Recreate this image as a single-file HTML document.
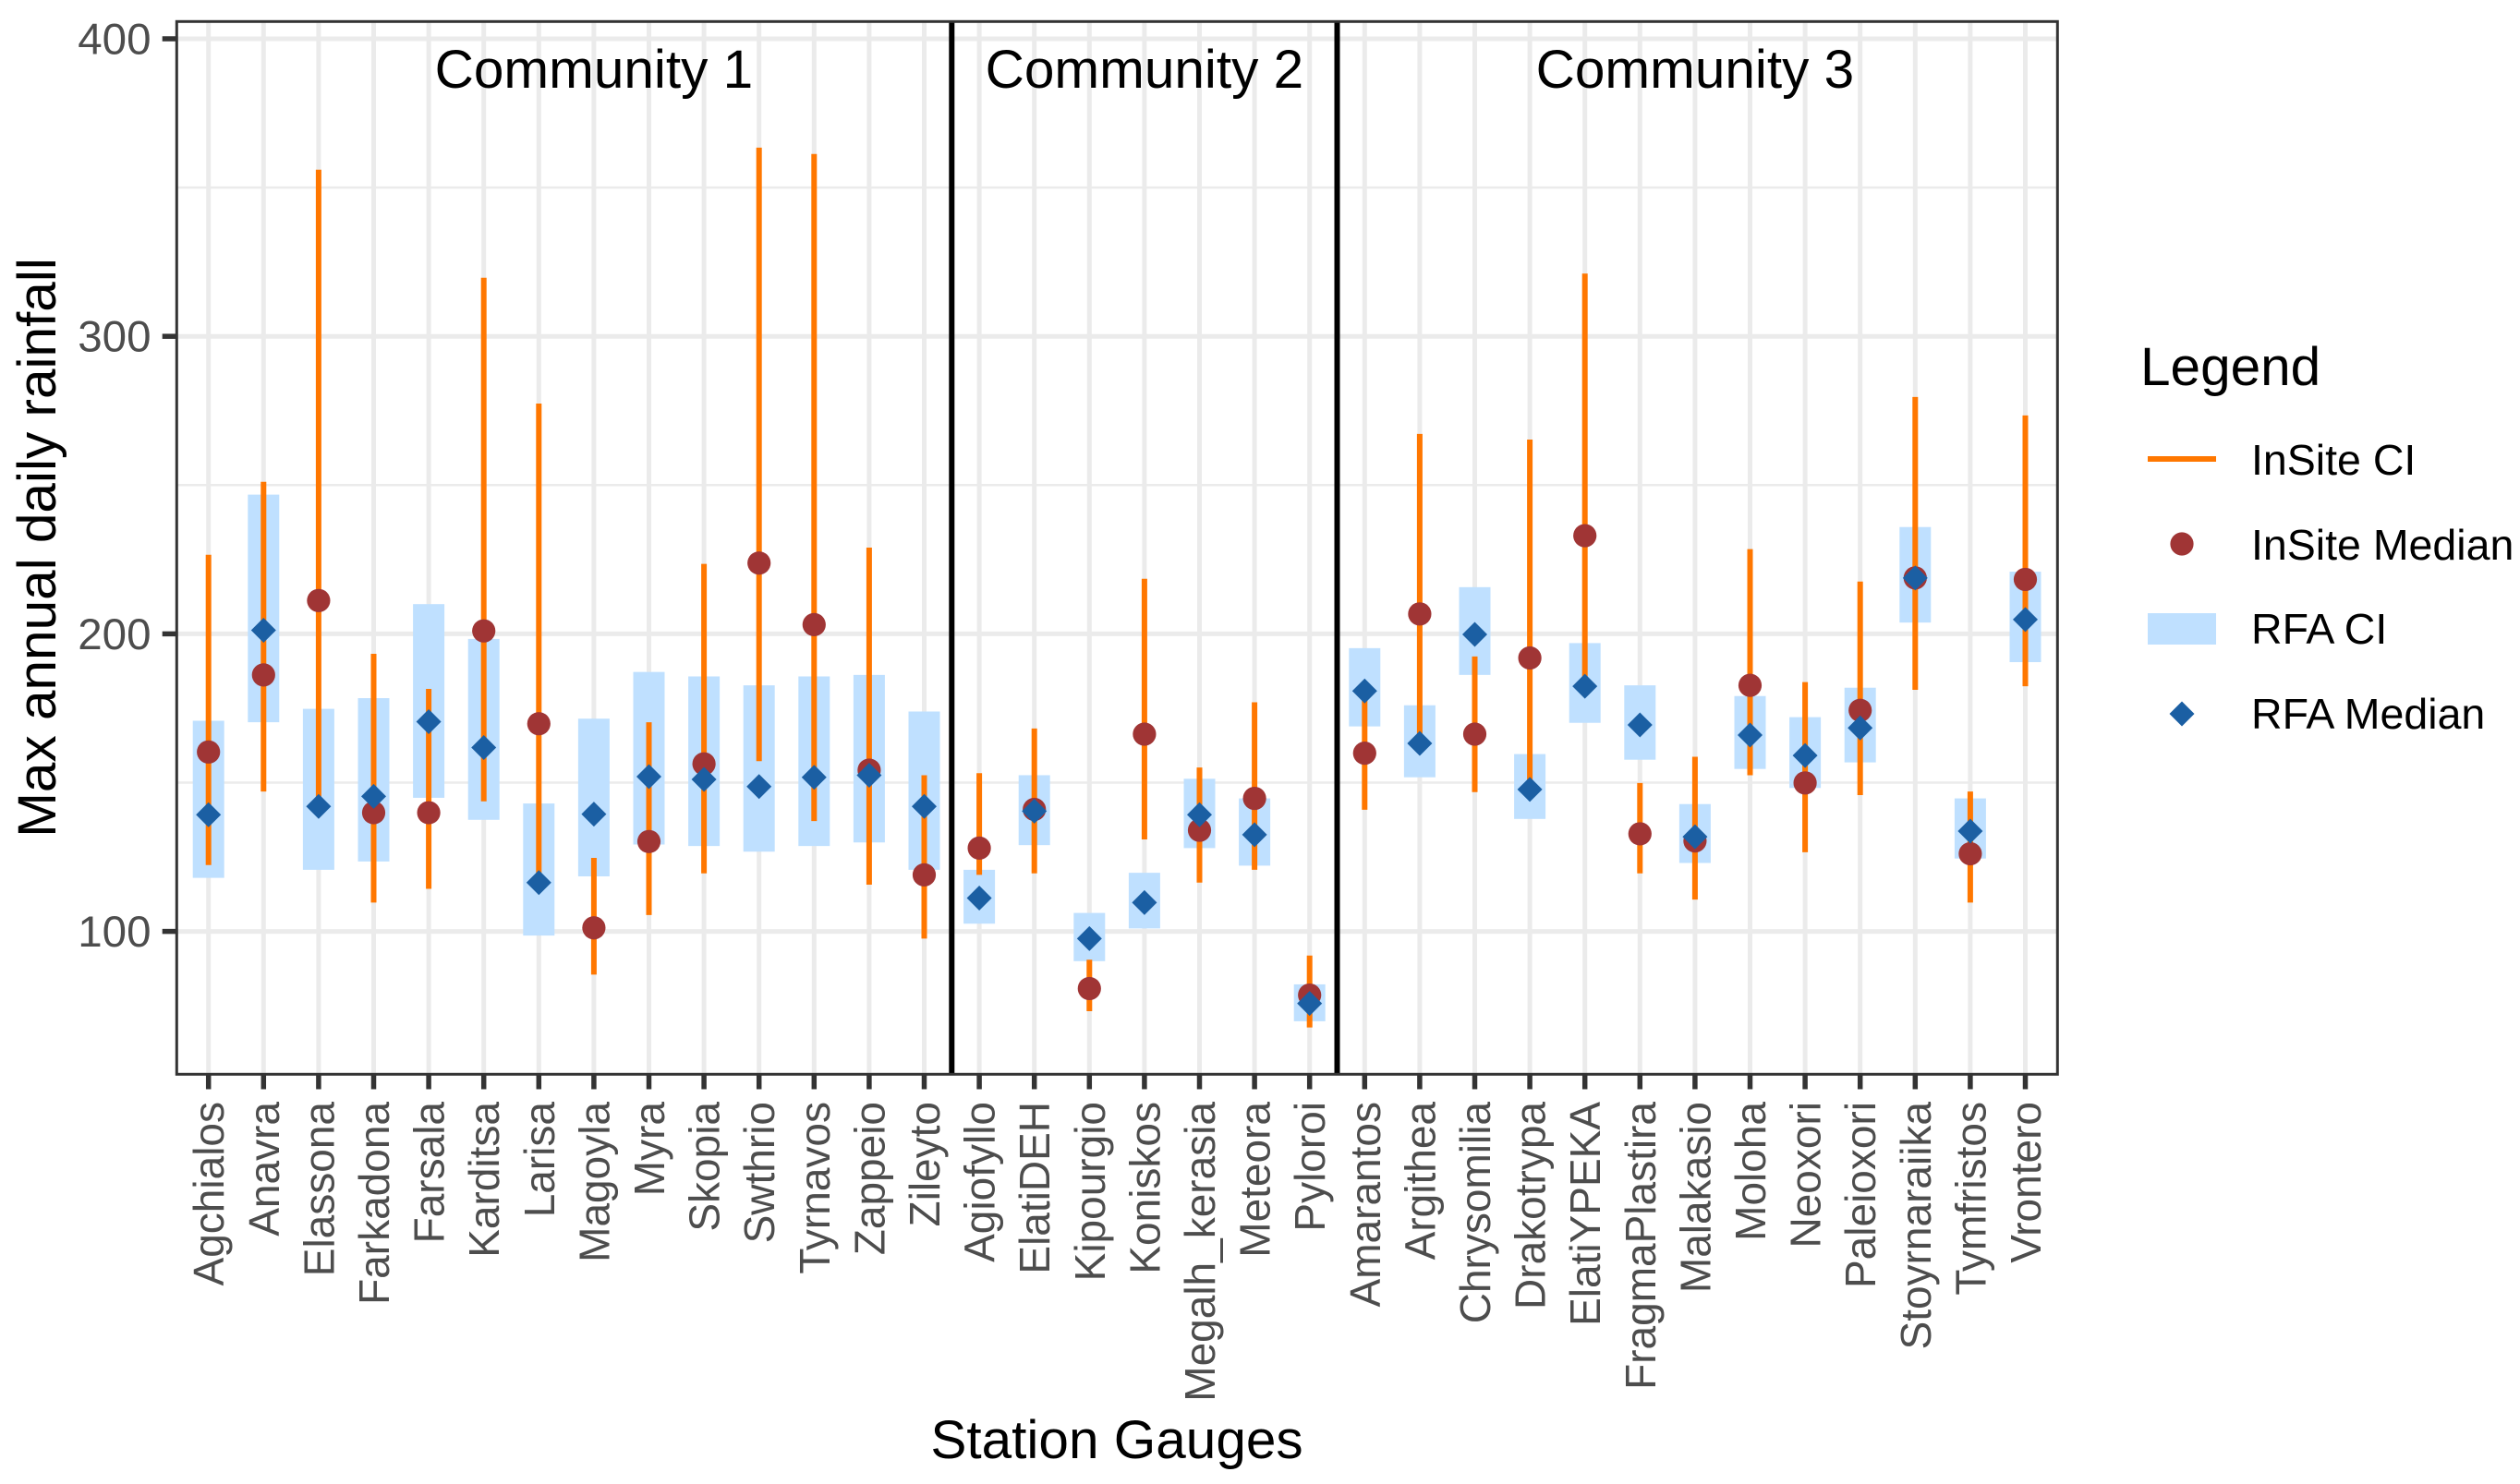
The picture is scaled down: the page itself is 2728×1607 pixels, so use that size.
<!DOCTYPE html>
<html lang="en">
<head>
<meta charset="utf-8">
<title>Max annual daily rainfall by station gauge</title>
<style>
  html, body { margin: 0; padding: 0; background: #ffffff; }
  svg { display: block; font-family: "Liberation Sans", Arial, sans-serif; }
</style>
</head>
<body>
<svg id="chart" xmlns="http://www.w3.org/2000/svg" width="2728" height="1607" viewBox="0 0 2728 1607">
  <rect x="0" y="0" width="2728" height="1607" fill="#ffffff"/>
  <g id="grid"></g>
  <g id="rfa-ci"></g>
  <g id="insite-ci"></g>
  <g id="insite-median"></g>
  <g id="rfa-median"></g>
  <g id="dividers"></g>
  <g id="community-labels"></g>
  <rect x="191.3" y="23.3" width="2036" height="1140" fill="none" stroke="#333333" stroke-width="3"/>
  <g id="y-axis"></g>
  <g id="x-axis"></g>

  <text transform="translate(60 593) rotate(-90)" text-anchor="middle" font-size="58.5" fill="#000000">Max annual daily rainfall</text>
  <text x="1209" y="1579" text-anchor="middle" font-size="58.5" fill="#000000">Station Gauges</text>

  <g>
    <text x="2317" y="417" font-size="58.5" fill="#000000">Legend</text>
    <g>
      <rect x="2325" y="494" width="74" height="6" fill="#FF7700"/>
      <text x="2437" y="514" font-size="46.5" fill="#000000">InSite CI</text>
    </g>
    <g>
      <circle cx="2362" cy="589" r="12.6" fill="#A03535"/>
      <text x="2437" y="606" font-size="46.5" fill="#000000">InSite Median</text>
    </g>
    <g>
      <rect x="2325" y="664" width="74" height="34" fill="#BFE0FF"/>
      <text x="2437" y="697" font-size="46.5" fill="#000000">RFA CI</text>
    </g>
    <g>
      <polygon points="2362,759.5 2375.5,773 2362,786.5 2348.5,773" fill="#1B5FA3"/>
      <text x="2437" y="789" font-size="46.5" fill="#000000">RFA Median</text>
    </g>
  </g>
</svg>

<script>
const stations = ["Agchialos","Anavra","Elassona","Farkadona","Farsala","Karditsa","Larisa","Magoyla","Myra","Skopia","Swthrio","Tyrnavos","Zappeio","Zileyto","Agiofyllo","ElatiDEH","Kipourgio","Koniskos","Megalh_kerasia","Meteora","Pyloroi","Amarantos","Argithea","Chrysomilia","Drakotrypa","ElatiYPEKA","FragmaPlastira","Malakasio","Moloha","Neoxori","Paleioxori","Stoyrnaraiika","Tymfristos","Vrontero"];
const insiteHigh = [226.6,251.1,356,193.3,181.5,319.7,277.4,124.7,170.3,223.5,363.4,361.3,229,152.5,153.2,168.2,90.5,218.5,155.1,177,91.9,181,267.2,192.4,265.3,321.1,149.9,158.7,228.5,183.8,217.6,279.6,147,273.4];
const insiteLow = [122.3,147,142,109.7,114.3,143.7,116.4,85.5,105.5,119.5,157.2,137.1,115.7,97.6,119,119.5,73.2,130.9,116.4,120.7,67.7,140.9,163.7,146.8,148,182.7,119.5,110.7,152.5,126.6,145.8,181.2,109.7,182.4];
const insiteMedian = [160.3,186.2,211.2,139.9,139.9,201,169.8,101.2,130.2,156.3,223.8,203.1,154.2,119,128,141,80.8,166.3,134,144.7,78.6,159.9,206.7,166.3,191.9,233,132.8,130.4,182.7,149.9,174.3,218.8,126.1,218.3];
const rfaHigh = [170.8,246.8,174.8,178.4,210,198.3,143,171.5,187.2,185.7,182.7,185.7,186.2,173.9,120.7,152.5,106.2,119.7,151.3,144.7,82.2,195.2,176,215.7,159.6,196.9,182.7,142.8,179.1,172,181.9,235.9,144.7,220.9];
const rfaLow = [118,170.3,120.7,123.5,144.9,137.5,98.6,118.5,129.2,128.7,126.8,128.7,129.9,120.7,102.6,129,90,101,128,122.1,69.8,168.9,151.8,186.2,137.8,170.1,157.7,123,154.6,148.2,156.8,203.8,124.5,190.5];
const rfaMedian = [139.2,201.2,142,145.4,170.5,161.8,116.4,139.4,152,151.1,148.7,151.8,152.5,142,111.2,140.4,97.6,109.7,139.2,132.5,75.8,180.8,163.2,199.8,147.7,182.4,169.4,131.8,166,159.1,168.4,218.8,133.7,204.8];
const yMajorTicks = [100,200,300,400];
const yMinorTicks = [150,250,350];
const communityNames = ["Community 1","Community 2","Community 3"];
const communityCenters = [8,18,28];
const dividerPositions = [14.5,21.5];

const NS = "http://www.w3.org/2000/svg";
const PANEL = { left: 191, right: 2227, top: 23, bottom: 1163 };

function xScale(position) { return 225.7 + (position - 1) * 59.6; }
function yScale(value) { return 1008.6 - (value - 100) * 3.222; }
function make(tag, parentId, attrs) {
  const node = document.createElementNS(NS, tag);
  for (const key in attrs) node.setAttribute(key, attrs[key]);
  document.getElementById(parentId).appendChild(node);
  return node;
}
let el;

yMinorTicks.forEach(function (v) {
  el = make("line", "grid", { x1: PANEL.left, x2: PANEL.right, y1: yScale(v), y2: yScale(v), stroke: "#EBEBEB", "stroke-width": 2.5 });
  
  
});
yMajorTicks.forEach(function (v) {
  el = make("line", "grid", { x1: PANEL.left, x2: PANEL.right, y1: yScale(v), y2: yScale(v), stroke: "#EBEBEB", "stroke-width": 5 });
  
  

  el = make("line", "y-axis", { x1: 175.7, x2: 191, y1: yScale(v), y2: yScale(v), stroke: "#333333", "stroke-width": 5.5 });
  
  

  el = make("text", "y-axis", { x: 163.5, y: yScale(v) + 16.5, "text-anchor": "end", "font-size": 47.5, fill: "#4D4D4D" });
  el.textContent = String(v);
  
  
});

stations.forEach(function (name, i) {
  const pos = i + 1;
  const cx = xScale(pos);

  el = make("line", "grid", { x1: cx, x2: cx, y1: PANEL.top, y2: PANEL.bottom, stroke: "#EBEBEB", "stroke-width": 5 });
  
  

  el = make("rect", "rfa-ci", { x: cx - 17, y: yScale(rfaHigh[i]), width: 34, height: yScale(rfaLow[i]) - yScale(rfaHigh[i]), fill: "#BFE0FF" });
  
  

  el = make("line", "insite-ci", { x1: cx, x2: cx, y1: yScale(insiteHigh[i]), y2: yScale(insiteLow[i]), stroke: "#FF7700", "stroke-width": 6 });
  
  

  el = make("circle", "insite-median", { cx: cx, cy: yScale(insiteMedian[i]), r: 12.6, fill: "#A03535" });
  
  

  const my = yScale(rfaMedian[i]);
  el = make("polygon", "rfa-median", { points: cx + "," + (my - 13.5) + " " + (cx + 13.5) + "," + my + " " + cx + "," + (my + 13.5) + " " + (cx - 13.5) + "," + my, fill: "#1B5FA3" });
  
  

  el = make("line", "x-axis", { x1: cx, x2: cx, y1: PANEL.bottom, y2: PANEL.bottom + 16.5, stroke: "#333333", "stroke-width": 5.5 });
  
  

  el = make("text", "x-axis", { transform: "translate(" + (cx + 16.5) + " 1193) rotate(-90)", "text-anchor": "end", "font-size": 46, fill: "#4D4D4D" });
  el.textContent = name;
  
  
});

dividerPositions.forEach(function (pos) {
  el = make("line", "dividers", { x1: xScale(pos), x2: xScale(pos), y1: PANEL.top, y2: PANEL.bottom, stroke: "#000000", "stroke-width": 6 });
  
  
});

communityNames.forEach(function (name, i) {
  el = make("text", "community-labels", { x: xScale(communityCenters[i]), y: 95, "text-anchor": "middle", "font-size": 58.5, fill: "#000000" });
  el.textContent = name;
  
  
});
</script>
</body>
</html>
